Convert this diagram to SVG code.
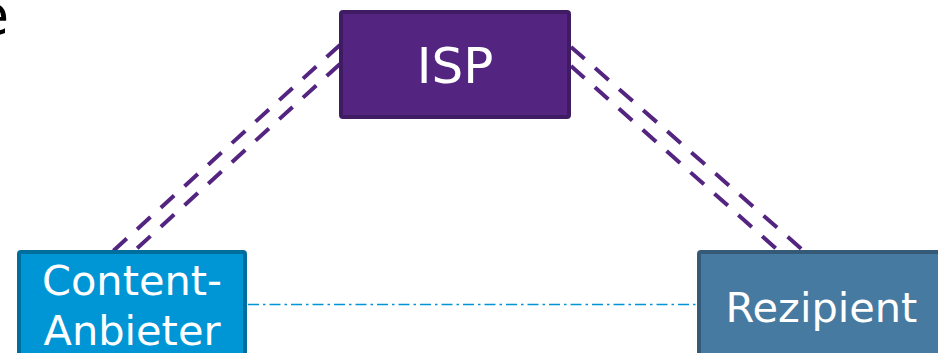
<svg xmlns="http://www.w3.org/2000/svg" width="938" height="353" viewBox="0 0 938 353">
<style>
.lbl{font-family:"DejaVu Sans",Verdana,sans-serif;fill:#ffffff}
.dash{stroke:#532581;stroke-width:4;stroke-dasharray:18 14;fill:none}
.dd{stroke:#0096d6;stroke-width:1.6;stroke-dasharray:11 4 2.5 4;fill:none}
</style>
<rect width="938" height="353" fill="#ffffff"/>
<text x="9" y="34" font-family="DejaVu Sans,Verdana,sans-serif" font-size="55" fill="#000000" text-anchor="end">e</text>
<g id="connectors">
<line class="dash" x1="340" y1="45" x2="112" y2="252"/>
<line class="dash" x1="340" y1="64" x2="133" y2="252"/>
<line class="dash" x1="571" y1="47" x2="805" y2="252"/>
<line class="dash" x1="571" y1="66" x2="780" y2="252"/>
<line class="dd" x1="248" y1="304.5" x2="697" y2="304.5"/>
</g>
<g id="isp">
<rect x="341" y="12" width="228" height="105" rx="2" fill="#532581" stroke="#3f1b63" stroke-width="4"/>
<text class="lbl" x="455" y="83" font-size="50" text-anchor="middle">ISP</text>
</g>
<g id="content-anbieter">
<rect x="19" y="252" width="226" height="120" rx="2" fill="#0096d6" stroke="#006e9c" stroke-width="4"/>
<text class="lbl" x="132" y="295" font-size="41.5" text-anchor="middle">Content-</text>
<text class="lbl" x="132" y="345" font-size="41.5" text-anchor="middle">Anbieter</text>
</g>
<g id="rezipient">
<rect x="699" y="252" width="260" height="120" rx="2" fill="#467aa0" stroke="#345a78" stroke-width="4"/>
<text class="lbl" x="821.5" y="322" font-size="41.5" text-anchor="middle">Rezipient</text>
</g>
</svg>
